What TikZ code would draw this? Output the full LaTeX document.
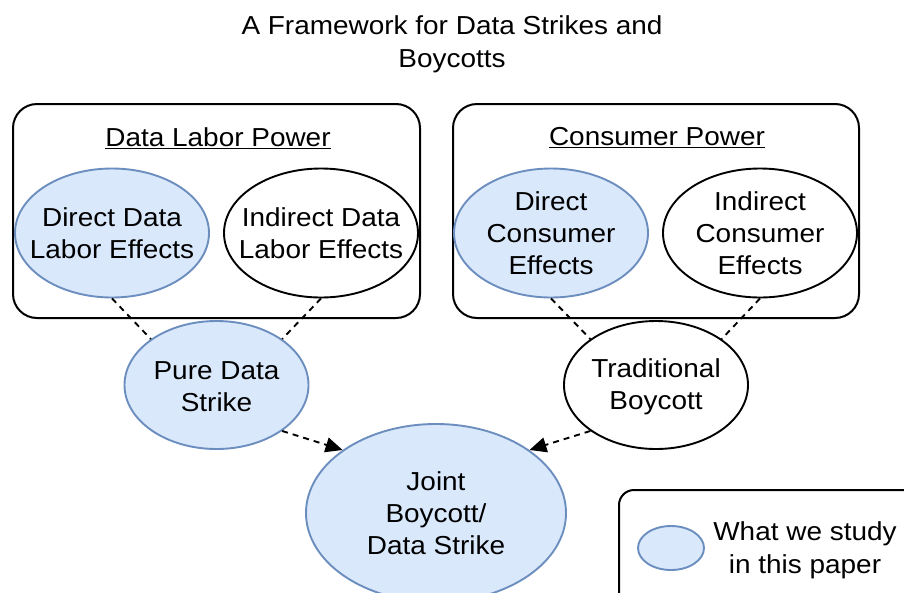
\documentclass[tikz,border=0pt]{standalone}
\usepackage{fontspec}
\setmainfont{Liberation Sans}[FakeStretch=1.075]
\usetikzlibrary{shapes.geometric,arrows.meta}
\definecolor{studyfill}{HTML}{DAE8FC}
\definecolor{studyline}{HTML}{6C8EBF}
\begin{document}
\begin{tikzpicture}[x=1pt,y=-1pt,
  txt/.style={font=\fontsize{26}{32}\selectfont, align=center, inner sep=0pt},
  oval/.style={ellipse, draw=black, line width=1.9pt, fill=white, inner sep=0pt},
  studied/.style={oval, draw=studyline, fill=studyfill},
  big/.style={minimum width=194pt, minimum height=129pt},
  mid/.style={minimum width=184pt, minimum height=128pt},
  group/.style={draw=black, line width=2pt, rounded corners=24pt},
  link/.style={line width=1.9pt, dash pattern=on 6pt off 5pt},
  flow/.style={link, -{Triangle[length=17pt,width=15pt]}}]
\useasboundingbox (0,0) rectangle (904,592);

% title
\node[txt, font=\fontsize{26}{33}\selectfont] (title) at (452,44) {A Framework for Data Strikes and\\Boycotts};

% the two power groups
\draw[group] (13,104) rectangle (420,318);
\draw[group] (453,104) rectangle (859,318);
\node[txt] (dlp) at (218,138) {\underline{Data Labor Power}};
\node[txt] (cp) at (657,138) {\underline{Consumer Power}};

% effect ovals
\node[studied, big] (dd) at (112,233) {};
\node[oval, big] (id) at (321,233) {};
\node[studied, big] (dc) at (551,233) {};
\node[oval, big] (ic) at (760,233) {};
\node[txt] (ddt) at (dd) {Direct Data\\Labor Effects};
\node[txt] (idt) at (id) {Indirect Data\\Labor Effects};
\node[txt] (dct) at (dc) {Direct\\Consumer\\Effects};
\node[txt] (ict) at (ic) {Indirect\\Consumer\\Effects};

% action ovals
\node[studied, mid] (pds) at (216.5,385) {};
\node[oval, mid] (tb) at (656,385) {};
\node[studied, minimum width=260pt, minimum height=178pt] (jb) at (436,513) {};
\node[txt] (pdst) at (216.5,387) {Pure Data\\Strike};
\node[txt] (tbt) at (656,387) {Traditional\\Boycott};
\node[txt] (jbt) at (jb) {Joint\\Boycott/\\Data Strike};

% connectors
\draw[link] (dd.south) -- (pds.145);
\draw[link] (id.south) -- (pds.35);
\draw[link] (dc.south) -- (tb.145);
\draw[link] (ic.south) -- (tb.35);
\draw[flow] (pds.-35) -- (jb.146);
\draw[flow] (tb.-145) -- (jb.34);

% legend
\draw[group, rounded corners=15pt] (619,490) rectangle (930,620);
\node[studied, minimum width=66pt, minimum height=44pt] (key) at (671,548) {};
\node[txt, font=\fontsize{26}{33}\selectfont] (keytext) at (805,550.5) {What we study\\in this paper};
\end{tikzpicture}
\end{document}
